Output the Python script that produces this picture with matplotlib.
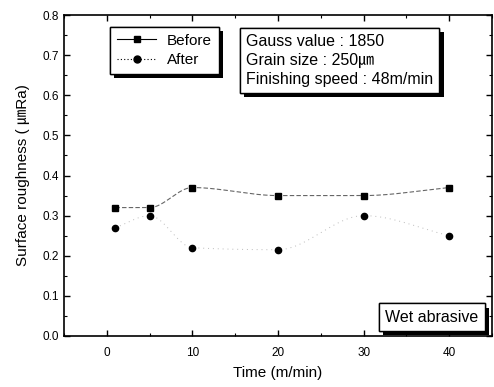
import numpy as np
import matplotlib
matplotlib.use("Agg")
import matplotlib.pyplot as plt
from matplotlib.ticker import MultipleLocator
import matplotlib.patheffects as pe

plt.rcParams['font.family'] = ['Liberation Sans', 'Noto Sans CJK KR', 'DejaVu Sans']

time = [1, 5, 10, 20, 30, 40]
before = [0.32, 0.32, 0.37, 0.35, 0.35, 0.37]
after = [0.27, 0.30, 0.22, 0.215, 0.30, 0.25]


def pchip(x, y, n=300):
    x = np.asarray(x, float); y = np.asarray(y, float)
    h = np.diff(x); delta = np.diff(y) / h
    m = len(x); d = np.zeros(m)
    for k in range(1, m - 1):
        if delta[k - 1] * delta[k] > 0:
            w1 = 2 * h[k] + h[k - 1]; w2 = h[k] + 2 * h[k - 1]
            d[k] = (w1 + w2) / (w1 / delta[k - 1] + w2 / delta[k])
    d[0] = delta[0]; d[-1] = delta[-1]
    xs = np.linspace(x[0], x[-1], n); ys = np.empty_like(xs)
    for j, xv in enumerate(xs):
        i = min(np.searchsorted(x, xv, side='right') - 1, m - 2)
        t = (xv - x[i]) / h[i]
        h00 = 2 * t**3 - 3 * t**2 + 1; h10 = t**3 - 2 * t**2 + t
        h01 = -2 * t**3 + 3 * t**2; h11 = t**3 - t**2
        ys[j] = h00 * y[i] + h10 * h[i] * d[i] + h01 * y[i + 1] + h11 * h[i] * d[i + 1]
    return xs, ys


fig = plt.figure(figsize=(4.94, 3.87), dpi=100)
ax = fig.add_axes([0.1296, 0.1318, 0.8664, 0.8294])

xs, ys = pchip(time, before)
ax.plot(xs, ys, color='#666666', lw=0.8, ls=(0, (4, 2)))
xs2, ys2 = pchip(time, after)
ax.plot(xs2, ys2, color='#bbbbbb', lw=0.7, ls=(0, (1, 4)))
ax.plot(time, before, 's', color='black', ms=4.5)
ax.plot(time, after, 'o', color='black', ms=4.5)

shadow = [pe.withSimplePatchShadow(offset=(3, -3), shadow_rgbFace='black', alpha=1), pe.Normal()]

# legend handles
h1, = ax.plot([], [], 's-', color='black', ms=5, lw=0.8, mfc='black')
h2, = ax.plot([], [], 'o', color='black', ms=5, ls=(0, (1, 2)), lw=0.8)
leg = ax.legend([h1, h2], ['Before', 'After'], loc='upper left',
                bbox_to_anchor=(0.107, 0.963), fontsize=11, frameon=True,
                fancybox=False, edgecolor='black', framealpha=1,
                handlelength=2.6, borderpad=0.45, labelspacing=0.35,
                handletextpad=0.7, borderaxespad=0)
leg.get_frame().set_linewidth(1.0)
leg.get_frame().set_path_effects(shadow)

t1 = ax.text(0.425, 0.94, 'Gauss value : 1850\nGrain size : 250㎛\nFinishing speed : 48m/min',
             transform=ax.transAxes, fontsize=11.5, va='top', ha='left', linespacing=1.3,
             bbox=dict(boxstyle='square,pad=0.4', fc='white', ec='black', lw=1.0))
t1.get_bbox_patch().set_path_effects(shadow)

t2 = ax.text(0.968, 0.058, 'Wet abrasive', transform=ax.transAxes, fontsize=11.5,
             va='center', ha='right',
             bbox=dict(boxstyle='square,pad=0.4', fc='white', ec='black', lw=1.0))
t2.get_bbox_patch().set_path_effects(shadow)

ax.set_xlim(-5, 45)
ax.set_ylim(0, 0.8)
ax.xaxis.set_major_locator(MultipleLocator(10))
ax.xaxis.set_minor_locator(MultipleLocator(5))
ax.yaxis.set_major_locator(MultipleLocator(0.1))
ax.yaxis.set_minor_locator(MultipleLocator(0.05))
ax.tick_params(which='both', direction='in', top=True, right=True, labelsize=8.5)
ax.tick_params(which='major', length=4, width=1)
ax.tick_params(which='minor', length=2, width=0.8)
ax.tick_params(axis='x', pad=8)
for s in ax.spines.values():
    s.set_linewidth(1.2)
ax.set_xlabel('Time (m/min)', fontsize=11, labelpad=5)
ax.set_ylabel('Surface roughness ( ㎛Ra)', fontsize=11, labelpad=9)

fig.savefig('out.png', dpi=100)
